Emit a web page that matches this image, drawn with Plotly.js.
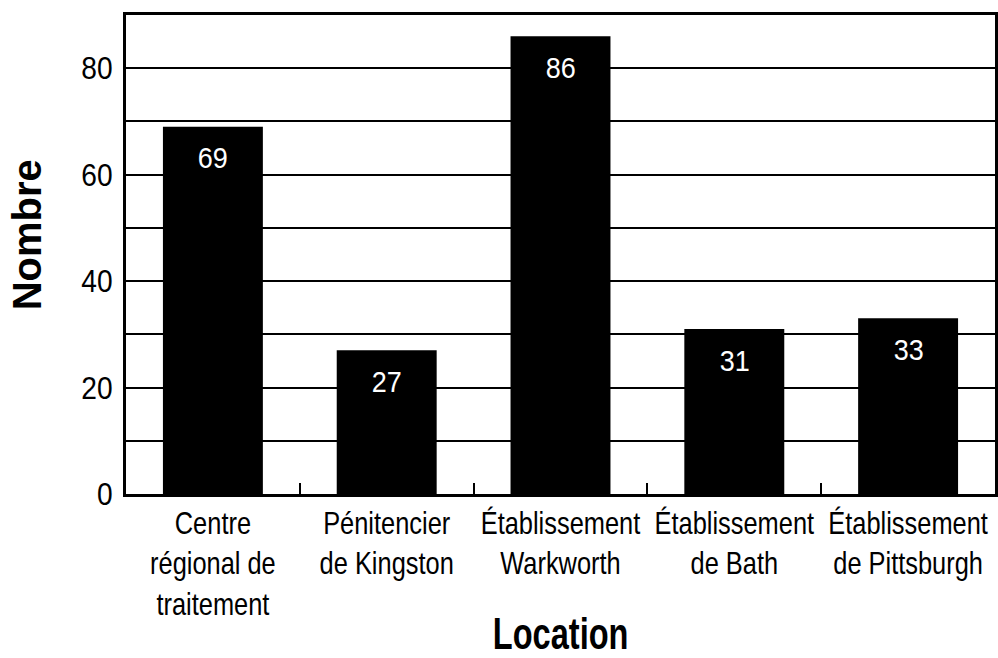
<!DOCTYPE html>
<html>
<head>
<meta charset="utf-8">
<script src="https://cdn.plot.ly/plotly-3.0.1.min.js"></script>
<style>html,body{margin:0;padding:0;background:#fff;}#chart{width:998px;height:658px;}</style>
</head>
<body>
<div id="chart"></div>
<script>
const categories = ["Centre<br>régional de<br>traitement", "Pénitencier<br>de Kingston", "Établissement<br>Warkworth", "Établissement<br>de Bath", "Établissement<br>de Pittsburgh"];
const values = [69, 27, 86, 31, 33];
const yTickVals = [0, 20, 40, 60, 80];
const yTickText = ["0", "20", "40", "60", "80"];
const xTitle = "Location";
const yTitle = "Nombre";

const FONT = "'Liberation Sans', Arial, sans-serif";

const trace = {
  type: 'bar',
  x: categories,
  y: values,
  marker: {color: '#000000', line: {width: 0}},
  hoverinfo: 'none'
};

const annotations = values.map((v, i) => ({
  x: categories[i], y: v, xref: 'x', yref: 'y',
  text: String(v), showarrow: false,
  yanchor: 'middle', yshift: -31,
  font: {family: FONT, size: 30, color: '#ffffff'}
}));
annotations.push({
  xref: 'paper', yref: 'paper', x: 0, y: 0.54, xshift: -99,
  text: '<b>' + yTitle + '</b>', showarrow: false, textangle: -90,
  xanchor: 'center', yanchor: 'middle',
  font: {family: FONT, size: 40, color: '#000'}
});
annotations.push({
  xref: 'paper', yref: 'paper', x: 0.5, y: 0, yshift: -139,
  text: '<b>' + xTitle + '</b>', showarrow: false,
  xanchor: 'center', yanchor: 'middle',
  font: {family: FONT, size: 44, color: '#000'}
});

const layout = {
  width: 998, height: 658,
  margin: {l: 126, r: 3, t: 15, b: 164},
  paper_bgcolor: '#ffffff', plot_bgcolor: '#ffffff',
  bargap: 0.425,
  showlegend: false,
  font: {family: FONT, color: '#000000'},
  xaxis: {
    type: 'category',
    showline: true, linecolor: '#000', linewidth: 3,
    mirror: true,
    ticks: 'inside', tickson: 'boundaries', ticklen: 11, tickwidth: 2, tickcolor: '#000',
    tickangle: 0,
    tickfont: {family: FONT, size: 31, color: '#000'},
    showgrid: false,
    automargin: false
  },
  yaxis: {
    range: [0, 90],
    tickvals: yTickVals, ticktext: yTickText,
    ticks: '', ticklabelstandoff: 4,
    tickfont: {family: FONT, size: 32, color: '#000'},
    showline: true, linecolor: '#000', linewidth: 3, mirror: true,
    showgrid: true, gridcolor: '#000', gridwidth: 2,
    zeroline: false,
    automargin: false,
    minor: {dtick: 10, showgrid: true, gridcolor: '#000', gridwidth: 2, ticks: ''}
  },
  annotations: annotations
};

// Condense text horizontally around its own anchor (the reference uses a condensed face)
function squeezeEl(el, f) {
  const x = parseFloat(el.getAttribute('x')) || 0;
  const old = el.getAttribute('transform') || '';
  el.setAttribute('transform', old + ' translate(' + x + ',0) scale(' + f + ',1) translate(' + (-x) + ',0)');
}

Plotly.newPlot('chart', [trace], layout, {displayModeBar: false, staticPlot: true}).then(() => {
  document.querySelectorAll('.xtick text').forEach(el => squeezeEl(el, 0.82));
  document.querySelectorAll('.ytick text').forEach(el => squeezeEl(el, 0.88));
  const ann = document.querySelectorAll('.annotation-text');
  ann.forEach((el, i) => {
    if (i < values.length) squeezeEl(el, 0.9);
    else if (i === values.length + 1) squeezeEl(el, 0.74);
  });
});
</script>
</body>
</html>
